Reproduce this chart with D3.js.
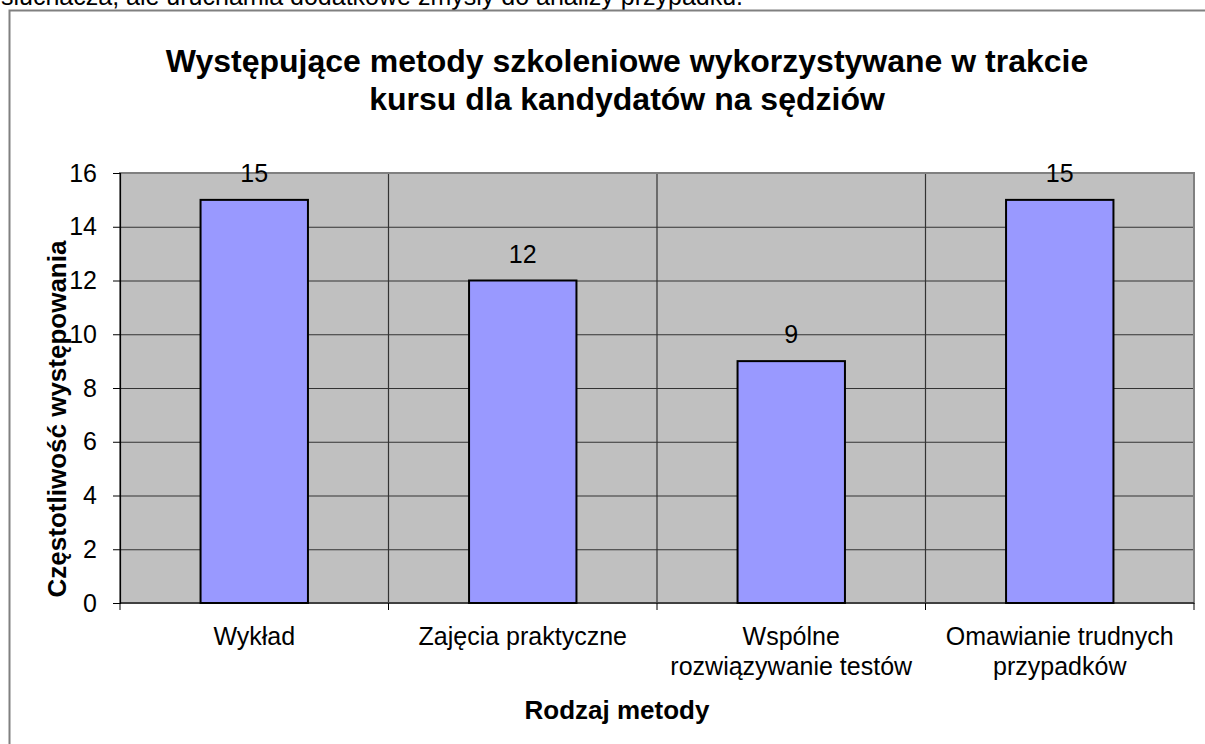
<!DOCTYPE html>
<html>
<head>
<meta charset="utf-8">
<script src="https://cdn.jsdelivr.net/npm/d3@7"></script>
<style>
  body { margin: 0; background: #fff; }
  text { font-family: Arial, "Liberation Sans", sans-serif; fill: #000; }
</style>
</head>
<body>
<div id="graph"></div>
<script>
let categories = ['Wykład', 'Zajęcia praktyczne', 'Wspólne\nrozwiązywanie testów', 'Omawianie trudnych\nprzypadków'];
let values = [15, 12, 9, 15];
let yTicks = [0, 2, 4, 6, 8, 10, 12, 14, 16];
let titleLines = ['Występujące metody szkoleniowe wykorzystywane w trakcie', 'kursu dla kandydatów na sędziów'];

let width = 1205;
let height = 744;
let plot = {left: 120, top: 173, right: 1194, bottom: 603};

let svg = d3.select('#graph')
            .append('svg')
                .attr('width', width)
                .attr('height', height);

// text of the document above the chart, cut by the window
svg.append('text')
    .attr('x', 1)
    .attr('y', 5)
    .style('font-size', '25px')
    .text('słuchacza, ale uruchamia dodatkowe zmysły do analizy przypadku.');

// chart frame
svg.append('rect')
    .attr('x', 9.5).attr('y', 10.5)
    .attr('width', 1210).attr('height', 760)
    .attr('fill', '#fff')
    .attr('stroke', '#808080')
    .attr('stroke-width', 2);

let x = d3.scaleBand()
    .domain(categories)
    .range([plot.left, plot.right])
    .paddingInner(0.6)
    .paddingOuter(0.3);
let y = d3.scaleLinear().domain([0, 16]).range([plot.bottom, plot.top]);

let step = x.step();

// plot area
svg.append('rect')
    .attr('x', plot.left).attr('y', plot.top)
    .attr('width', plot.right - plot.left).attr('height', plot.bottom - plot.top)
    .attr('fill', '#c0c0c0');

// horizontal gridlines
svg.append('g')
    .attr('transform', 'translate(' + plot.left + ',0)')
    .call(d3.axisLeft(y).tickValues(yTicks).tickSize(-(plot.right - plot.left)).tickFormat(''))
    .call(g => g.select('.domain').remove())
    .call(g => g.selectAll('line').attr('stroke', '#333').attr('stroke-width', 1.2));

// vertical gridlines on category borders
svg.append('g')
    .selectAll('line')
    .data(categories.slice(1))
    .enter().append('line')
        .attr('x1', d => x(d) - step * 0.3).attr('x2', d => x(d) - step * 0.3)
        .attr('y1', plot.top).attr('y2', plot.bottom)
        .attr('stroke', '#333').attr('stroke-width', 1.2);

// plot border
svg.append('rect')
    .attr('x', plot.left).attr('y', plot.top)
    .attr('width', plot.right - plot.left).attr('height', plot.bottom - plot.top)
    .attr('fill', 'none')
    .attr('stroke', '#808080')
    .attr('stroke-width', 2);

// bars
svg.selectAll('.bar')
        .data(values)
    .enter().append('rect')
        .attr('class', 'bar')
        .attr('x', (d, i) => x(categories[i]))
        .attr('width', x.bandwidth())
        .attr('y', d => y(d))
        .attr('height', d => plot.bottom - y(d))
        .attr('fill', '#9999ff')
        .attr('stroke', '#000')
        .attr('stroke-width', 2);

// value labels
svg.selectAll('.val')
        .data(values)
    .enter().append('text')
        .attr('class', 'val')
        .attr('x', (d, i) => x(categories[i]) + x.bandwidth() / 2)
        .attr('y', d => y(d) - 18)
        .attr('text-anchor', 'middle')
        .style('font-size', '25px')
        .text(d => d);

// y axis
let yAxis = svg.append('g')
    .attr('transform', 'translate(' + plot.left + ',0)')
    .call(d3.axisLeft(y).tickValues(yTicks).tickSize(7).tickPadding(16));
yAxis.select('.domain').attr('stroke', '#000').attr('stroke-width', 1.2);
yAxis.selectAll('line').attr('stroke', '#000');
yAxis.selectAll('text').style('font-size', '25px').style('font-family', 'Arial, "Liberation Sans", sans-serif');

// x axis line and ticks at category borders
let xAxis = svg.append('g');
xAxis.append('line')
    .attr('x1', plot.left).attr('x2', plot.right)
    .attr('y1', plot.bottom).attr('y2', plot.bottom)
    .attr('stroke', '#000').attr('stroke-width', 1.2);
xAxis.selectAll('.tk')
    .data(d3.range(categories.length + 1))
    .enter().append('line')
        .attr('x1', i => plot.left + i * step).attr('x2', i => plot.left + i * step)
        .attr('y1', plot.bottom).attr('y2', plot.bottom + 7)
        .attr('stroke', '#000');

// category labels
svg.selectAll('.cat')
        .data(categories)
    .enter().append('text')
        .attr('class', 'cat')
        .attr('text-anchor', 'middle')
        .style('font-size', '25px')
        .each(function (d) {
            let lines = d.split('\n');
            d3.select(this).selectAll('tspan')
                .data(lines)
                .enter().append('tspan')
                    .attr('x', x(d) + x.bandwidth() / 2)
                    .attr('y', (l, i) => 645 + i * 30)
                    .text(l => l);
        });

// axis titles
svg.append('text')
    .attr('x', 617).attr('y', 719)
    .attr('text-anchor', 'middle')
    .style('font-size', '26px').style('font-weight', 'bold')
    .text('Rodzaj metody');

svg.append('text')
    .attr('transform', 'translate(66,419) rotate(-90)')
    .attr('text-anchor', 'middle')
    .style('font-size', '26px').style('font-weight', 'bold')
    .text('Częstotliwość występowania');

// chart title
svg.append('text')
    .attr('text-anchor', 'middle')
    .style('font-size', '32px').style('font-weight', 'bold')
    .selectAll('tspan')
    .data(titleLines)
    .enter().append('tspan')
        .attr('x', 627)
        .attr('y', (d, i) => 72 + i * 38)
        .text(d => d);
</script>
</body>
</html>
